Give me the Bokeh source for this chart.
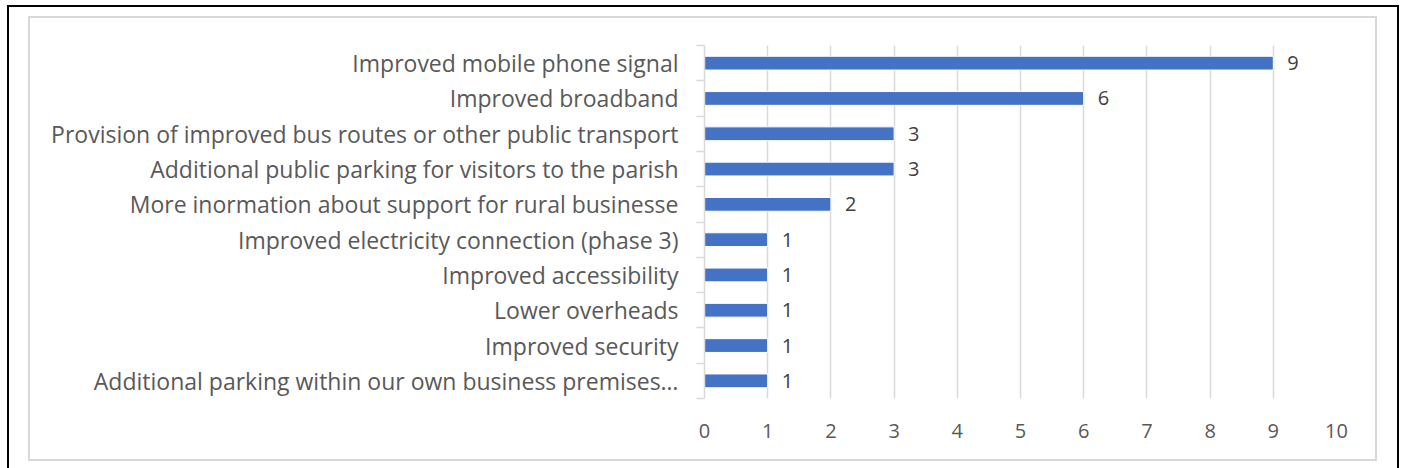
from bokeh.plotting import figure
from bokeh.models import (Range1d, LinearAxis, FixedTicker, CustomLabelingPolicy,
                          ColumnDataSource, LabelSet)
from bokeh.core.properties import value
from bokeh.embed import file_html
from bokeh.resources import INLINE

categories = [
    "Improved mobile phone signal",
    "Improved broadband",
    "Provision of improved bus routes or other public transport",
    "Additional public parking for visitors to the parish",
    "More inormation about support for rural businesse",
    "Improved electricity connection (phase 3)",
    "Improved accessibility",
    "Lower overheads",
    "Improved security",
    "Additional parking within our own business premises\u2026",
]
values = [9, 6, 3, 3, 2, 1, 1, 1, 1, 1]
x_ticks = [0, 1, 2, 3, 4, 5, 6, 7, 8, 9, 10]

FONT = "Open Sans"
TXT = "#595959"
GRID = "#d9d9d9"

n = len(categories)
pos = [n - i for i in range(n)]          # top category first
src = ColumnDataSource(dict(pos=pos, val=values, lab=[str(v) for v in values]))

# page frame: outer black box and inner light-grey chart-area box, drawn as CSS backgrounds
frame_rects = [
    ("#000", 7, 5, 1392, 2),      # outer top
    ("#000", 7, 5, 2, 470),       # outer left
    ("#000", 1397, 5, 2, 470),    # outer right
    (GRID, 28, 16, 1349, 2),      # inner top
    (GRID, 28, 459, 1349, 2),     # inner bottom
    (GRID, 28, 16, 2, 445),       # inner left
    (GRID, 1375, 16, 2, 445),     # inner right
]
styles = {
    "background-image": ", ".join(f"linear-gradient({c},{c})" for c, *_ in frame_rects),
    "background-position": ", ".join(f"{x}px {y}px" for _, x, y, _w, _h in frame_rects),
    "background-size": ", ".join(f"{w}px {h}px" for *_, w, h in frame_rects),
    "background-repeat": "no-repeat",
    "background-color": "white",
}

p = figure(width=1403, height=468, output_backend="svg", toolbar_location=None,
           x_range=Range1d(0, 10), y_range=Range1d(0.5, n + 0.5),
           x_axis_location=None, y_axis_location=None,
           min_border_left=704, min_border_right=67, min_border_top=45, min_border_bottom=70,
           styles=styles)
p.outline_line_color = None
p.background_fill_color = None
p.border_fill_color = None

p.xgrid.ticker = FixedTicker(ticks=x_ticks)
p.xgrid.grid_line_color = GRID
p.xgrid.grid_line_width = 1.5
p.ygrid.grid_line_color = None

p.hbar(y="pos", right="val", left=0, height=0.39, source=src,
       fill_color="#4472C4", line_color="white", line_width=1)

labels = LabelSet(x="val", y="pos", text="lab", source=src, x_offset=14,
                  text_baseline="middle", text_font=value(FONT), text_font_size="20px",
                  text_color="#404040")
p.add_layout(labels)

# tick axis: ticks between categories, no labels
no_labels = CustomLabelingPolicy(code="""
    for (const i of Array.from(indices)) indices.unset(i)
    return indices
""")
tick_axis = LinearAxis(ticker=FixedTicker(ticks=[k + 0.5 for k in range(n + 1)]),
                       axis_line_color=GRID, axis_line_width=1.5,
                       major_tick_line_color=GRID, major_tick_line_width=1.5,
                       major_tick_out=8, major_tick_in=0, minor_tick_line_color=None,
                       major_label_policy=no_labels, major_label_text_font_size="1px",
                       major_label_standoff=0)
p.add_layout(tick_axis, "left")

# label axis: category names at the bar centres
cat_axis = LinearAxis(ticker=FixedTicker(ticks=pos),
                      major_label_overrides={pp: c for pp, c in zip(pos, categories)},
                      axis_line_color=None, major_tick_line_color=None,
                      minor_tick_line_color=None, major_label_standoff=7,
                      major_label_text_font=FONT, major_label_text_font_size="23px",
                      major_label_text_color=TXT)
p.add_layout(cat_axis, "left")

x_axis = LinearAxis(ticker=FixedTicker(ticks=x_ticks), axis_line_color=None,
                    major_tick_line_color=None, minor_tick_line_color=None,
                    major_label_standoff=19, major_label_text_font=FONT,
                    major_label_text_font_size="20px", major_label_text_color=TXT)
p.add_layout(x_axis, "below")

open("out.html", "w").write(file_html(p, INLINE))
